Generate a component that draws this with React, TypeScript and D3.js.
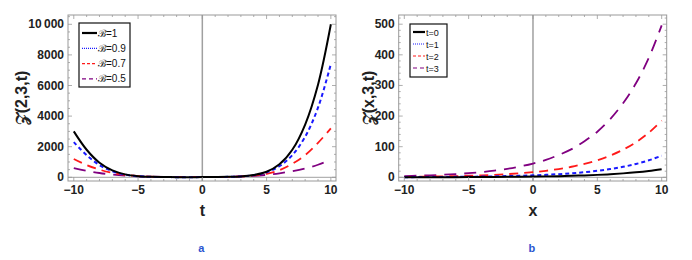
import React, { useEffect, useRef } from "react";
import * as d3 from "d3";

// sample positions
const tPoints = [-10, -9, -8, -7, -6, -5, -4, -3, -2, -1, 0, 1, 2, 3, 4, 5, 6, 7, 8, 9, 10];
const xPoints = [-10, -9, -8, -7, -6, -5, -4, -3, -2, -1, 0, 1, 2, 3, 4, 5, 6, 7, 8, 9, 10];

// panel a: Z(2,3,t) for several B
const zB10 = [3000, 1800, 950, 450, 190, 75, 30, 15, 10, 10, 12, 18, 30, 60, 150, 360, 850, 1800, 3450, 6050, 10000];
const zB09 = [2300, 1450, 800, 400, 170, 70, 30, 15, 10, 10, 12, 18, 30, 60, 140, 330, 720, 1450, 2650, 4550, 7400];
const zB07 = [1200, 800, 500, 290, 160, 80, 40, 20, 12, 10, 12, 18, 30, 55, 110, 230, 470, 880, 1450, 2250, 3200];
const zB05 = [600, 420, 280, 180, 110, 65, 40, 25, 15, 12, 12, 18, 30, 55, 90, 160, 260, 400, 580, 820, 1150];

// panel b: Z(x,3,t) for several t
const zT0 = [0.2, 0.3, 0.4, 0.4, 0.6, 0.7, 0.9, 1.2, 1.5, 1.9, 2.4, 3.1, 3.9, 4.9, 6.3, 8, 10.1, 12.9, 16.4, 20.8, 26.4];
const zT1 = [0.6, 0.7, 0.9, 1.2, 1.5, 1.9, 2.5, 3.1, 4, 5, 6.4, 8.1, 10.3, 13.1, 16.7, 21.2, 27, 34.4, 43.6, 55.5, 70.5];
const zT2 = [1.5, 1.9, 2.5, 3.1, 4, 5.1, 6.4, 8.2, 10.4, 13.2, 16.8, 21.4, 27.1, 34.5, 43.9, 55.8, 70.9, 90.2, 114.6, 145.7, 185];
const zT3 = [4.1, 5.2, 6.6, 8.4, 10.7, 13.5, 17.2, 21.9, 27.9, 35.4, 45, 57, 73, 92, 118, 149, 190, 242, 307, 390, 496];

const legendA = ["ℬ=1", "ℬ=0.9", "ℬ=0.7", "ℬ=0.5"];
const legendB = ["t=0", "t=1", "t=2", "t=3"];

const xTicks = [-10, -5, 0, 5, 10];
const yTicksA = [0, 2000, 4000, 6000, 8000, 10000];
const yTicksB = [0, 100, 200, 300, 400, 500];

const colors = ["#000000", "#1a1aff", "#ff1a1a", "#800080"];
const curveDash = ["none", "4,3", "9,6", "12,8"];
const legendDash = ["none", "1,1", "3,2", "4,3"];
const curveWidth = [2, 2, 1.8, 1.8];

const FONT = "'Liberation Sans', Arial, sans-serif";

function fmt(v) {
  const s = String(Math.abs(v));
  const body = s.length > 4 ? s.slice(0, s.length - 3) + "\u2009" + s.slice(-3) : s;
  return v < 0 ? "\u2212" + body : body;
}

function drawPanel(svg, cfg) {
  const { left, right, top, bottom, xDomain, yDomain, xs, series, yTicks, yMinor, yLabel, xLabel, tag, legend, legendBox } = cfg;
  const x = d3.scaleLinear().domain(xDomain).range([left, right]);
  const y = d3.scaleLinear().domain(yDomain).range([bottom, top]);
  const g = svg.append("g");

  // curves, clipped to frame
  const clipId = "clip-" + tag;
  svg.append("clipPath").attr("id", clipId)
    .append("rect").attr("x", left).attr("y", top).attr("width", right - left).attr("height", bottom - top);

  // axes at zero
  g.append("line").attr("x1", x(0)).attr("x2", x(0)).attr("y1", top).attr("y2", bottom)
    .attr("stroke", "#a0a0a0").attr("stroke-width", 1.5);
  g.append("line").attr("x1", left).attr("x2", right).attr("y1", y(0)).attr("y2", y(0))
    .attr("stroke", "#a0a0a0").attr("stroke-width", 1);

  const line = d3.line().x((d) => x(d[0])).y((d) => y(d[1])).curve(d3.curveCatmullRom.alpha(0.5));
  const cg = g.append("g").attr("clip-path", `url(#${clipId})`);
  // draw from last to first so the solid black sits on top
  series.slice().reverse().forEach((vals, ri) => {
    const i = series.length - 1 - ri;
    cg.append("path")
      .datum(xs.map((t, k) => [t, vals[k]]))
      .attr("d", line)
      .attr("fill", "none")
      .attr("stroke", colors[i])
      .attr("stroke-width", curveWidth[i])
      .attr("stroke-dasharray", curveDash[i]);
  });

  // frame
  g.append("rect").attr("x", left).attr("y", top).attr("width", right - left).attr("height", bottom - top)
    .attr("fill", "none").attr("stroke", "#999").attr("stroke-width", 1);

  // frame ticks
  const tk = g.append("g").attr("stroke", "#999").attr("stroke-width", 0.8);
  const xMinor = d3.range(-10, 10.5, 1);
  xMinor.forEach((v) => {
    const len = v % 5 === 0 ? 4 : 2;
    tk.append("line").attr("x1", x(v)).attr("x2", x(v)).attr("y1", bottom).attr("y2", bottom - len);
    tk.append("line").attr("x1", x(v)).attr("x2", x(v)).attr("y1", top).attr("y2", top + len);
  });
  d3.range(0, yDomain[1], yMinor).forEach((v) => {
    const len = yTicks.includes(v) ? 4 : 2;
    tk.append("line").attr("y1", y(v)).attr("y2", y(v)).attr("x1", left).attr("x2", left + len);
    tk.append("line").attr("y1", y(v)).attr("y2", y(v)).attr("x1", right).attr("x2", right - len);
  });

  // tick labels
  const lab = g.append("g").attr("font-family", FONT).attr("font-weight", "bold").attr("font-size", 12).attr("fill", "#222");
  xTicks.forEach((v) => {
    lab.append("text").attr("x", x(v)).attr("y", bottom + 13).attr("text-anchor", "middle").text(fmt(v));
  });
  yTicks.forEach((v) => {
    lab.append("text").attr("x", left - 4).attr("y", y(v) + 4).attr("text-anchor", "end").text(fmt(v));
  });

  // axis labels
  g.append("text").attr("transform", `translate(${cfg.yLabelX},${(top + bottom) / 2}) rotate(-90)`)
    .attr("text-anchor", "middle").attr("font-family", FONT).attr("font-weight", "bold").attr("font-size", 16)
    .attr("fill", "#222").text(yLabel);
  g.append("text").attr("x", x(0)).attr("y", 216).attr("text-anchor", "middle")
    .attr("font-family", FONT).attr("font-weight", "bold").attr("font-size", 16).attr("fill", "#222").text(xLabel);
  g.append("text").attr("x", x(0) - 1).attr("y", 252).attr("text-anchor", "middle")
    .attr("font-family", FONT).attr("font-weight", "bold").attr("font-size", 11).attr("fill", "#2a55d0").text(tag);

  // legend
  const lg = g.append("g");
  lg.append("rect").attr("x", legendBox.x).attr("y", legendBox.y).attr("width", legendBox.w).attr("height", legendBox.h)
    .attr("fill", "white").attr("stroke", "#111").attr("stroke-width", 1.2);
  legend.forEach((name, i) => {
    const ly = legendBox.y + legendBox.pad + i * legendBox.step;
    lg.append("line").attr("x1", legendBox.x + 3).attr("x2", legendBox.x + 3 + legendBox.sample)
      .attr("y1", ly).attr("y2", ly).attr("stroke", colors[i])
      .attr("stroke-width", i === 0 ? 2.2 : 1.2).attr("stroke-dasharray", legendDash[i]);
    lg.append("text").attr("x", legendBox.x + 4 + legendBox.sample).attr("y", ly + 3.5)
      .attr("font-family", FONT).attr("font-size", legendBox.fs).attr("fill", "#111").text(name);
  });
}

export default function App() {
  const ref = useRef(null);

  useEffect(() => {
    const svg = d3.select(ref.current);
    svg.selectAll("*").remove();

    drawPanel(svg, {
      left: 68, right: 336, top: 15, bottom: 181,
      xDomain: [-10.45, 10.4], yDomain: [-242, 10608],
      xs: tPoints, series: [zB10, zB09, zB07, zB05],
      yTicks: yTicksA, yMinor: 500,
      yLabel: "𝒵(2,3,t)", yLabelX: 27, xLabel: "t", tag: "a",
      legend: legendA,
      legendBox: { x: 79, y: 23, w: 51, h: 64, pad: 10, step: 15.3, sample: 15, fs: 10 },
    });

    drawPanel(svg, {
      left: 398.7, right: 666.7, top: 15, bottom: 181,
      xDomain: [-10.435, 10.39], yDomain: [-12, 530],
      xs: xPoints, series: [zT0, zT1, zT2, zT3],
      yTicks: yTicksB, yMinor: 20,
      yLabel: "𝒵(x,3,t)", yLabelX: 374, xLabel: "x", tag: "b",
      legend: legendB,
      legendBox: { x: 410, y: 24, w: 37, h: 53, pad: 8, step: 12, sample: 12, fs: 9 },
    });
  }, []);

  return (
    <svg ref={ref} width={692} height={260}
      style={{ position: "absolute", left: 0, top: 0, background: "white", display: "block" }} />
  );
}
